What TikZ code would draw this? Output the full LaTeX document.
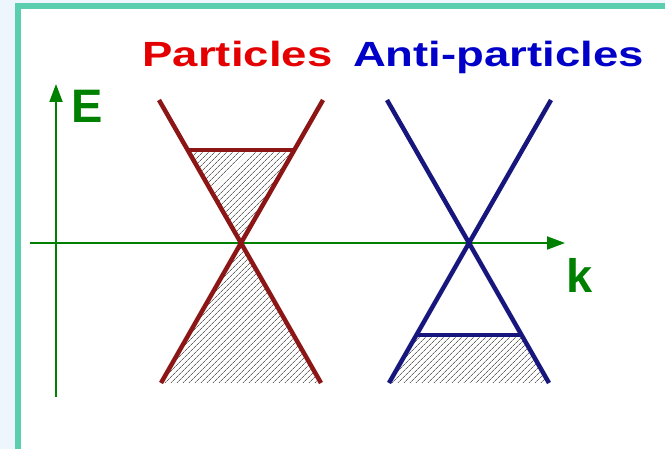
\documentclass[tikz,border=0pt]{standalone}
\usepackage{fontspec}
\setmainfont{Liberation Sans}
\usetikzlibrary{arrows.meta,patterns.meta}

\definecolor{frameteal}{RGB}{92,206,176}
\definecolor{paleblue}{RGB}{238,246,253}
\definecolor{axisgreen}{RGB}{0,128,0}
\definecolor{coneRed}{RGB}{140,22,22}
\definecolor{coneBlue}{RGB}{22,22,125}
\definecolor{titleRed}{RGB}{228,0,0}
\definecolor{titleBlue}{RGB}{0,0,200}

\tikzset{
    axis/.style={line width=2pt, axisgreen, -{Triangle[length=18pt,width=13pt]}},
    cone/.style={line width=4.5pt},
    hatched/.style={pattern={Lines[angle=45,distance=4pt,line width=0.8pt]}, pattern color=gray!80!black},
    title/.style={font=\bfseries\fontsize{35}{40}\selectfont, inner sep=0pt, anchor=base},
    axlabel/.style={font=\bfseries\fontsize{47}{52}\selectfont, text=axisgreen, inner sep=0pt, anchor=base}
}

\begin{document}
\begin{tikzpicture}[x=1pt, y=-1pt]
    \useasboundingbox (0,0) rectangle (665,449);
    \clip (0,0) rectangle (665,449);

    % Background and frame
    \fill[paleblue] (0,0) rectangle (665,449);
    \draw[frameteal, line width=6pt, fill=white] (18,6) rectangle (720,500);

    % Titles
    \node[title, text=titleRed] (tpart) at (237.5,67) {\scalebox{1.3}[1]{Particles}};
    \node[title, text=titleBlue] (tanti) at (498.5,67) {\scalebox{1.3}[1]{Anti-particles}};

    % Crossing points of the cones
    \coordinate (xp) at (241,243);
    \coordinate (xa) at (469,243);

    % Hatched regions (filled states)
    \fill[hatched] (188,150) -- (xp) -- (294,150) -- cycle;
    \fill[hatched] (xp) -- (161,383) -- (321,383) -- cycle;
    \fill[hatched] (416.6,335) -- (521.4,335) -- (549,383) -- (389,383) -- cycle;

    % Axes
    \coordinate (eBot) at (56,397);
    \coordinate (eTop) at (56,84);
    \coordinate (kLeft) at (30,243);
    \coordinate (kRight) at (565,243);
    \draw[axis] (eBot) -- (eTop);
    \draw[axis] (kLeft) -- (kRight);
    \node[axlabel] (elab) at (87.5,123) {E};
    \node[axlabel] (klab) at (579.5,293) {k};

    % Particle cone
    \coordinate (p1) at (159,100);
    \coordinate (p2) at (323,100);
    \coordinate (p3) at (161,383);
    \coordinate (p4) at (321,383);
    \draw[cone, coneRed] (p1) -- (xp) -- (p4);
    \draw[cone, coneRed] (p2) -- (xp) -- (p3);
    \draw[cone, coneRed] (186,150) -- (296,150);

    % Anti-particle cone
    \coordinate (a1) at (387,100);
    \coordinate (a2) at (551,100);
    \coordinate (a3) at (389,383);
    \coordinate (a4) at (549,383);
    \draw[cone, coneBlue] (a1) -- (xa) -- (a4);
    \draw[cone, coneBlue] (a2) -- (xa) -- (a3);
    \draw[cone, coneBlue] (414.6,335) -- (523.4,335);
\end{tikzpicture}
\end{document}
